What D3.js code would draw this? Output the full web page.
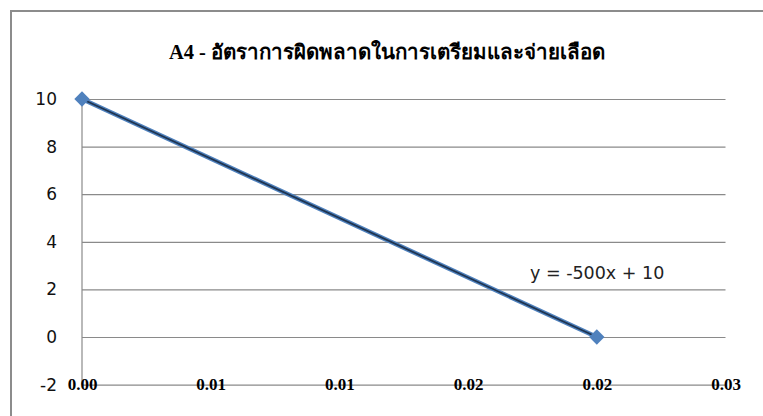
<!DOCTYPE html>
<html>
<head>
<meta charset="utf-8">
<script src="https://cdn.jsdelivr.net/npm/d3@7"></script>
<style>
  html, body { margin: 0; padding: 0; background: #fff; }
  svg { display: block; }
</style>
</head>
<body>
<svg id="chart" width="763" height="416"></svg>
<script>
// Observed points
const xValues = [0, 0.02];
const yValues = [10, 0];

// Axis ticks
const xTicks = [0, 0.005, 0.01, 0.015, 0.02, 0.025];
const xTickLabels = ["0.00", "0.01", "0.01", "0.02", "0.02", "0.03"];
const yTicks = [-2, 0, 2, 4, 6, 8, 10];

const titleText = "A4 - อัตราการผิดพลาดในการเตรียมและจ่ายเลือด";

const svg = d3.select("#chart");
const W = 763, H = 416;

// Chart frame: only the top and left edges fall inside the view
svg.append("path")
  .attr("d", `M11,${H + 5} V11 H${W + 5}`)
  .attr("fill", "none")
  .attr("stroke", "#8c8c8c")
  .attr("stroke-width", 2);

const plot = { left: 82, right: 725.5, top: 99, bottom: 384.6 };

const x = d3.scaleLinear().domain([0, 0.025]).range([plot.left, plot.right]);
const y = d3.scaleLinear().domain([-2, 10]).range([plot.bottom, plot.top]);

// Horizontal gridlines + y labels
const yAxis = svg.append("g")
  .attr("transform", `translate(${plot.left},0)`)
  .call(d3.axisLeft(y).tickValues(yTicks)
    .tickSize(-(plot.right - plot.left))
    .tickPadding(25)
    .tickFormat(d => String(d)));
yAxis.select(".domain").remove();
yAxis.selectAll(".tick line").attr("stroke", "#8a8a8a").attr("stroke-width", 1.2);
yAxis.selectAll(".tick text")
  .attr("fill", "#111")
  .style("font-family", "'DejaVu Sans', Verdana, sans-serif")
  .style("font-size", "17px");

// Vertical axis line
svg.append("line")
  .attr("x1", plot.left).attr("x2", plot.left)
  .attr("y1", y(10)).attr("y2", y(-2))
  .attr("stroke", "#8a8a8a").attr("stroke-width", 1.2);

// X axis along y = -2, labels sit on the line
const xAxis = svg.append("g")
  .attr("transform", `translate(0,${y(-2)})`)
  .call(d3.axisBottom(x).tickValues(xTicks)
    .tickSize(0).tickPadding(0)
    .tickFormat((d, i) => xTickLabels[i]));
xAxis.select(".domain").remove();
xAxis.selectAll(".tick text")
  .attr("y", 0).attr("dy", "0.32em")
  .attr("fill", "#000")
  .style("font-family", "'Liberation Serif', 'Times New Roman', serif")
  .style("font-weight", "bold")
  .style("font-size", "17px");

// Linear trendline by least squares
const n = xValues.length;
const mx = d3.mean(xValues), my = d3.mean(yValues);
let sxy = 0, sxx = 0;
for (let i = 0; i < n; i++) {
  sxy += (xValues[i] - mx) * (yValues[i] - my);
  sxx += (xValues[i] - mx) ** 2;
}
const slope = Math.round(sxy / sxx * 1e6) / 1e6;
const intercept = Math.round((my - slope * mx) * 1e6) / 1e6;

const pts = xValues.map((v, i) => [v, yValues[i]]);

// Series line
svg.append("path")
  .datum(pts)
  .attr("d", d3.line().x(d => x(d[0])).y(d => y(d[1])))
  .attr("fill", "none")
  .attr("stroke", "#4f81bd")
  .attr("stroke-width", 4.5);

// Trendline over the series
const xr = d3.extent(xValues);
svg.append("path")
  .datum(xr.map(v => [v, slope * v + intercept]))
  .attr("d", d3.line().x(d => x(d[0])).y(d => y(d[1])))
  .attr("fill", "none")
  .attr("stroke", "#1f3450")
  .attr("stroke-width", 1.8);

// Diamond markers
svg.selectAll("path.marker")
  .data(pts)
  .join("path")
  .attr("class", "marker")
  .attr("transform", d => `translate(${x(d[0])},${y(d[1])})`)
  .attr("d", d3.symbol().type(d3.symbolDiamond2).size(150))
  .attr("fill", "#4f81bd");

// Trendline equation
const sign = intercept < 0 ? "-" : "+";
svg.append("text")
  .attr("x", 530).attr("y", 279)
  .attr("fill", "#222")
  .style("font-family", "'DejaVu Sans', Verdana, sans-serif")
  .style("font-size", "17.5px")
  .text(`y = ${slope}x ${sign} ${Math.abs(intercept)}`);

// Title
svg.append("text")
  .attr("x", 387).attr("y", 59)
  .attr("text-anchor", "middle")
  .attr("fill", "#000")
  .style("font-family", "'Liberation Serif', 'Times New Roman', serif")
  .style("font-weight", "bold")
  .style("font-size", "20.5px")
  .text(titleText);
</script>
</body>
</html>
